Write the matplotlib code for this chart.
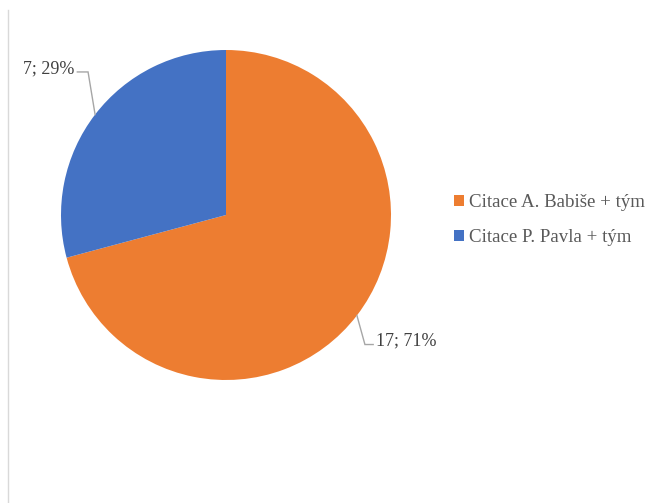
import numpy as np
import matplotlib.pyplot as plt
from matplotlib.lines import Line2D

labels = ['Citace A. Babiše + tým', 'Citace P. Pavla + tým']
counts = [17, 7]
colors = ['#ED7D31', '#4472C4']

plt.rcParams['font.family'] = ['Liberation Serif', 'DejaVu Serif']

W, H = 655, 503
fig = plt.figure(figsize=(W / 100, H / 100), dpi=100)

# pie centred at (226, 215) px with radius 165 px
cx, cy, r = 226, 215, 165
ax = fig.add_axes([(cx - r) / W, (H - cy - r) / H, 2 * r / W, 2 * r / H])
wedges, _ = ax.pie(counts, colors=colors, startangle=90, counterclock=False,
                   radius=1, wedgeprops=dict(linewidth=0))
ax.set_xlim(-1, 1)
ax.set_ylim(-1, 1)
ax.set_aspect('equal')
ax.axis('off')

total = sum(counts)
# label anchor positions (x of the elbow, y of the label) in radius units
label_pos = [(0.842, -0.785, 'left'), (-0.836, 0.867, 'right')]
for w, n, (lx, ly, ha) in zip(wedges, counts, label_pos):
    mid = np.deg2rad((w.theta1 + w.theta2) / 2)
    ex, ey = np.cos(mid), np.sin(mid)
    step = 0.05 if ha == 'left' else -0.065
    ax.plot([ex, lx, lx + step], [ey, ly, ly], color='#a6a6a6', lw=1,
            clip_on=False, solid_joinstyle='miter')
    pct = round(100 * n / total)
    ax.text(lx + step + (0.02 if ha == 'left' else -0.015), ly + 0.02,
            f'{n}; {pct}%', ha=ha, va='center', fontsize=13,
            color='#404040', clip_on=False)

fig.legend(wedges, labels, loc='upper left',
           bbox_to_anchor=(437 / W, 1 - 177 / H), frameon=False,
           fontsize=13.6, handlelength=0.55, handleheight=0.55,
           handletextpad=0.25, labelspacing=0.95, labelcolor='#595959')

# thin border on the left edge
fig.add_artist(Line2D([8 / W, 8 / W], [0, 1 - 10 / H], color='#d9d9d9', lw=1))

fig.savefig('out.png', dpi=100)
